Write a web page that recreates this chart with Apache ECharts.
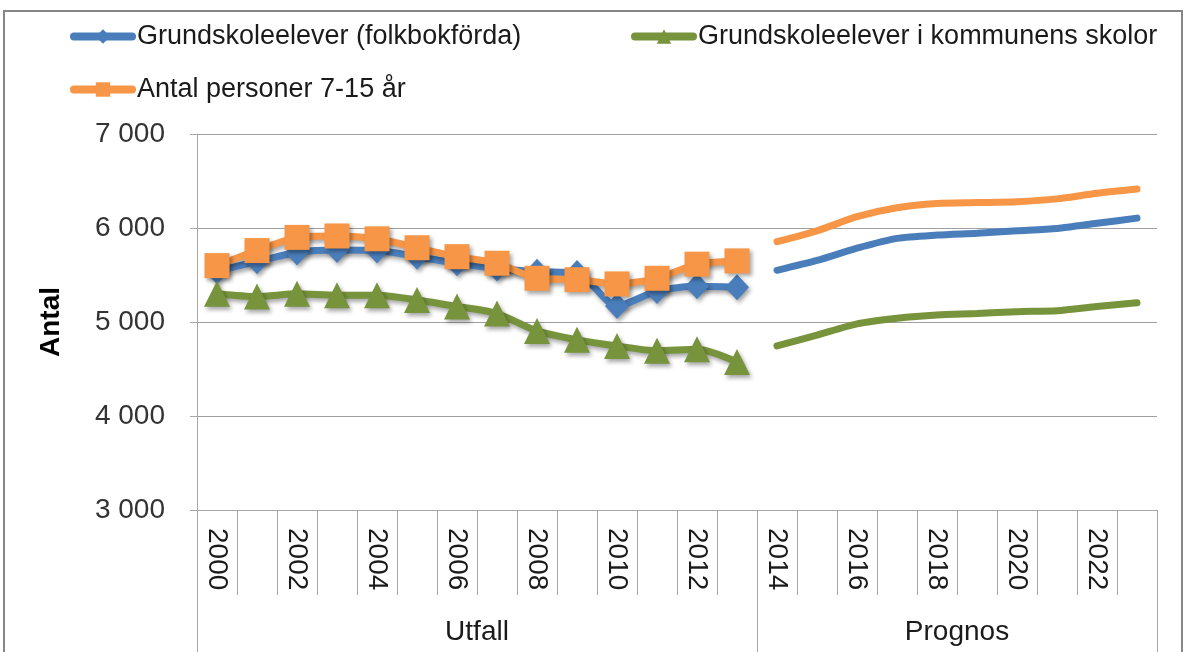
<!DOCTYPE html>
<html>
<head>
<meta charset="utf-8">
<script src="https://cdn.jsdelivr.net/npm/echarts@6/dist/echarts.min.js"></script>
<style>
  html, body { margin: 0; padding: 0; background: #fff; }
  #chart { width: 1185px; height: 652px; }
</style>
</head>
<body>
<div id="chart"></div>
<script>

// år på x-axeln
const years = ['2000','2001','2002','2003','2004','2005','2006','2007','2008','2009','2010','2011',
  '2012','2013','2014','2015','2016','2017','2018','2019','2020','2021','2022','2023'];

const groupLabels = ['Utfall', 'Prognos'];

const seriesNames = ['Grundskoleelever (folkbokförda)', 'Grundskoleelever i kommunens skolor', 'Antal personer 7-15 år'];

// utfall 2000-2013
const blueUtfall   = [5540, 5645, 5740, 5765, 5760, 5695, 5625, 5570, 5535, 5520, 5170, 5330, 5380, 5370];
const greenUtfall  = [5300, 5270, 5300, 5285, 5285, 5235, 5165, 5090, 4905, 4810, 4745, 4695, 4710, 4575];
const orangeUtfall = [5600, 5760, 5900, 5915, 5885, 5790, 5695, 5625, 5465, 5450, 5405, 5465, 5615, 5650];

// prognos 2014-2023
const bluePrognos   = [5550, 5655, 5785, 5890, 5925, 5945, 5970, 5995, 6050, 6105];
const greenPrognos  = [4745, 4860, 4980, 5040, 5075, 5090, 5110, 5120, 5165, 5205];
const orangePrognos = [5855, 5970, 6120, 6215, 6260, 6270, 6280, 6310, 6370, 6415];

const colors = ['#4a7ebb', '#77933c', '#f79646'];
const FONT = 'Liberation Sans';

function padUtfall(arr) {
  return arr.concat(years.slice(arr.length).map(() => '-'));
}
function padPrognos(arr) {
  return years.slice(0, years.length - arr.length).map(() => '-').concat(arr);
}
function fmt(v) {
  return String(v).replace(/\B(?=(\d{3})+(?!\d))/g, ' ');
}

const shadow = {
  shadowColor: 'rgba(0,0,0,0.35)',
  shadowBlur: 4,
  shadowOffsetX: 2,
  shadowOffsetY: 3
};

function utfallSeries(i, data, symbol, size) {
  return {
    name: seriesNames[i],
    type: 'line',
    data: padUtfall(data),
    smooth: 0.25,
    symbol: symbol,
    symbolSize: size,
    showAllSymbol: true,
    lineStyle: Object.assign({ color: colors[i], width: 7, cap: 'round' }, shadow),
    itemStyle: Object.assign({ color: colors[i] }, shadow),
    z: 3 + i
  };
}

function prognosSeries(i, data) {
  return {
    name: seriesNames[i] + ' prognos',
    type: 'line',
    data: padPrognos(data),
    smooth: 0.25,
    symbol: 'none',
    lineStyle: { color: colors[i], width: 7, cap: 'round' },
    itemStyle: { color: colors[i] },
    z: 2
  };
}

function legendAt(name, left, top) {
  return {
    data: [name],
    left: left,
    top: top,
    padding: 0,
    itemWidth: 58,
    itemHeight: 18,
    selectedMode: false,
    lineStyle: { width: 8, cap: 'round', shadowBlur: 0, shadowOffsetX: 0, shadowOffsetY: 0 },
    itemStyle: { shadowBlur: 0, shadowOffsetX: 0, shadowOffsetY: 0 },
    textStyle: { fontFamily: FONT, fontSize: 27, color: '#1a1a1a' }
  };
}

const option = {
  animation: false,
  backgroundColor: '#fff',
  textStyle: { fontFamily: FONT },
  graphic: [{
    type: 'rect',
    shape: { x: 4, y: 11, width: 1178, height: 680 },
    style: { fill: 'none', stroke: '#868686', lineWidth: 2 },
    silent: true
  }],
  legend: [
    legendAt(seriesNames[0], 70, 23),
    legendAt(seriesNames[1], 631, 23),
    legendAt(seriesNames[2], 70, 76)
  ],
  grid: { left: 197, right: 28, top: 134, bottom: 142 },
  xAxis: [{
    type: 'category',
    data: years,
    boundaryGap: true,
    axisLine: { show: true, lineStyle: { color: '#a6a6a6', width: 1 } },
    axisTick: { show: true, interval: 0, length: 85, lineStyle: { color: '#a6a6a6' } },
    axisLabel: {
      interval: 1,
      rotate: -90,
      margin: 18,
      fontFamily: FONT,
      fontSize: 28,
      color: '#1a1a1a'
    },
    splitLine: { show: false }
  }, {
    type: 'value',
    min: 0,
    max: 24,
    position: 'bottom',
    axisLine: { show: false },
    splitLine: { show: false },
    axisTick: { show: true, customValues: [0, 14, 24], length: 150, lineStyle: { color: '#a6a6a6' } },
    axisLabel: {
      customValues: [7, 19],
      formatter: function (v) { return v === 7 ? groupLabels[0] : groupLabels[1]; },
      margin: 108,
      fontFamily: FONT,
      fontSize: 28,
      color: '#1a1a1a'
    }
  }],
  yAxis: {
    type: 'value',
    min: 3000,
    max: 7000,
    interval: 1000,
    name: 'Antal',
    nameLocation: 'middle',
    nameGap: 132,
    nameTextStyle: { fontFamily: FONT, fontSize: 28, fontWeight: 'bold', color: '#000' },
    axisLine: { show: true, lineStyle: { color: '#a6a6a6' } },
    axisTick: { show: true, length: 7, lineStyle: { color: '#a6a6a6' } },
    axisLabel: {
      margin: 32,
      fontFamily: FONT,
      fontSize: 28,
      color: '#333',
      formatter: fmt
    },
    splitLine: { show: true, lineStyle: { color: '#a0a0a0', width: 1 } }
  },
  series: [
    utfallSeries(0, blueUtfall, 'diamond', [24, 26]),
    utfallSeries(1, greenUtfall, 'triangle', [26, 26]),
    utfallSeries(2, orangeUtfall, 'rect', [25, 25]),
    prognosSeries(0, bluePrognos),
    prognosSeries(1, greenPrognos),
    prognosSeries(2, orangePrognos)
  ]
};

const myChart = echarts.init(document.getElementById('chart'));
myChart.setOption(option);

</script>
</body>
</html>
